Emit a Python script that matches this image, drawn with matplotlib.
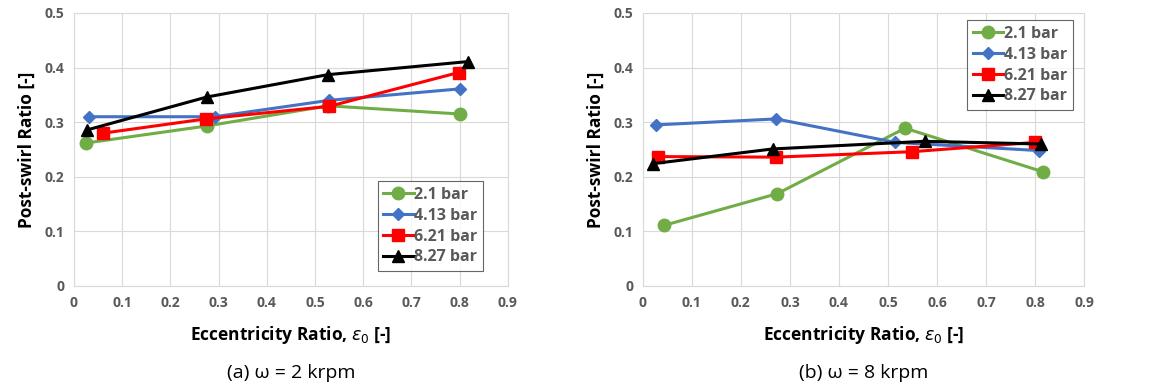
import matplotlib.pyplot as plt

plt.rcParams['font.family'] = ['Open Sans', 'DejaVu Sans']

labels = ['2.1 bar', '4.13 bar', '6.21 bar', '8.27 bar']
colors = ['#70AD47', '#4472C4', '#FF0000', '#000000']
markers = ['o', 'D', 's', '^']
msizes = [9, 6.5, 8.5, 8.5]

# (a) 2 krpm
ecc_a = [[0.026, 0.275, 0.527, 0.800],
         [0.032, 0.292, 0.529, 0.800],
         [0.061, 0.273, 0.529, 0.798],
         [0.028, 0.275, 0.526, 0.817]]
psr_a = [[0.262, 0.293, 0.330, 0.315],
         [0.310, 0.310, 0.340, 0.361],
         [0.280, 0.306, 0.329, 0.391],
         [0.286, 0.346, 0.387, 0.411]]

# (b) 8 krpm
ecc_b = [[0.043, 0.274, 0.535, 0.817],
         [0.026, 0.272, 0.515, 0.808],
         [0.031, 0.272, 0.550, 0.800],
         [0.020, 0.265, 0.575, 0.812]]
psr_b = [[0.111, 0.169, 0.289, 0.209],
         [0.295, 0.306, 0.263, 0.248],
         [0.237, 0.236, 0.246, 0.263],
         [0.224, 0.251, 0.265, 0.260]]

captions = ['(a) ω = 2 krpm', '(b) ω = 8 krpm']

fig = plt.figure(figsize=(11.52, 3.89), dpi=100)
ax_a = fig.add_axes([0.0642, 0.2648, 0.3767, 0.7018])
ax_b = fig.add_axes([0.558, 0.2648, 0.383, 0.7018])


def draw(ax, ecc, psr, legend_loc, caption):
    for i in range(len(labels)):
        ax.plot(ecc[i], psr[i], color=colors[i], marker=markers[i],
                markersize=msizes[i], linewidth=2.2, label=labels[i], zorder=3)
    ax.set_xlim(0, 0.9)
    ax.set_ylim(0, 0.5)
    ax.set_xticks([i / 10 for i in range(10)])
    ax.set_xticklabels(['0'] + ['%.1f' % (i / 10) for i in range(1, 10)])
    ax.set_yticks([i / 10 for i in range(6)])
    ax.set_yticklabels(['0'] + ['%.1f' % (i / 10) for i in range(1, 6)])
    ax.grid(True, color='#D9D9D9', linewidth=0.8)
    for s in ax.spines.values():
        s.set_color('#D9D9D9')
    ax.tick_params(length=0, colors='#595959', labelsize=10, pad=7)
    for t in ax.get_xticklabels() + ax.get_yticklabels():
        t.set_fontweight('bold')
    ax.set_xlabel(r'Eccentricity Ratio, $\epsilon_0$ [-]', fontsize=12.5,
                  fontweight='bold', labelpad=10)
    ax.set_ylabel('Post-swirl Ratio [-]', fontsize=12.5, fontweight='bold',
                  labelpad=6)
    leg = ax.legend(loc=legend_loc, fontsize=11.5, frameon=True, fancybox=False,
                    handlelength=1.9, handletextpad=0.05, borderpad=0.35,
                    labelspacing=0.3, borderaxespad=0.5)
    leg.get_frame().set_edgecolor('#404040')
    leg.get_frame().set_linewidth(0.8)
    for t in leg.get_texts():
        t.set_color('#595959')
        t.set_fontweight('bold')
    ax.text(0.5, -0.285, caption, transform=ax.transAxes, ha='center',
            va='top', fontsize=14)


draw(ax_a, ecc_a, psr_a, (0.70, 0.055), captions[0])
draw(ax_b, ecc_b, psr_b, (0.735, 0.645), captions[1])

fig.savefig('out.png', dpi=100)
